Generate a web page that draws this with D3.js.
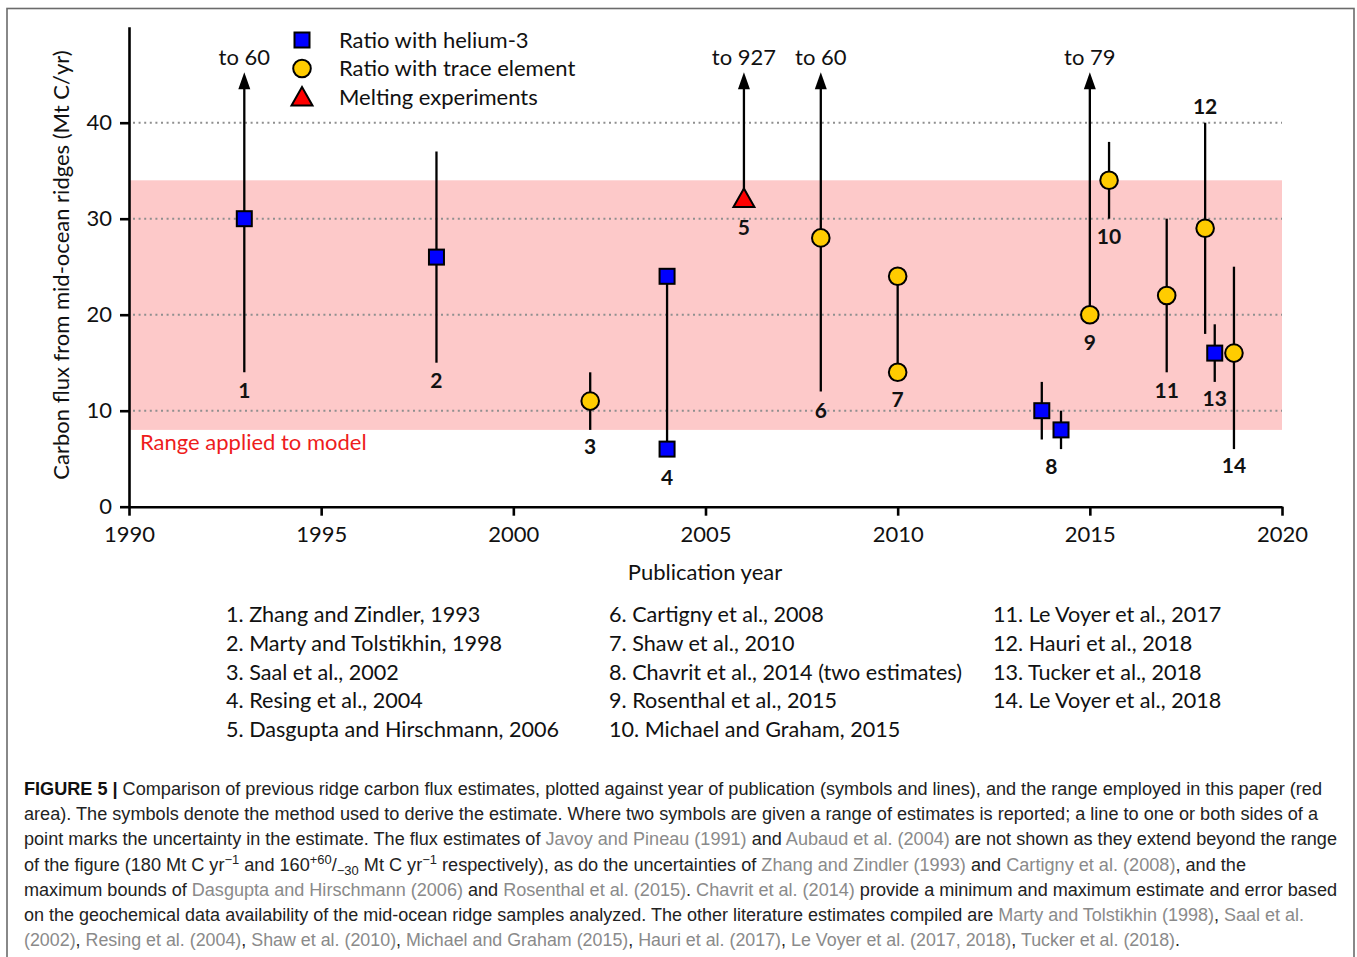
<!DOCTYPE html>
<html><head><meta charset="utf-8">
<script src="https://cdn.jsdelivr.net/npm/d3@7"></script>
<style>
html,body{margin:0;padding:0;background:#fff;}
svg{display:block;}
</style></head>
<body>
<svg id="c" width="1357" height="957"></svg>
<script>
// ---------- DATA ----------
const refNum   = [1,2,3,4,5,6,7,8,8,9,10,11,12,13,14];
const pubYear  = [1993,1998,2002,2004,2006,2008,2010,2013.75,2014.25,2015,2015.5,2017,2018,2018.25,2018.75];
const method   = ["he3","he3","trace","he3","melt","trace","trace","he3","he3","trace","trace","trace","trace","he3","trace"];
const estimateA = [30,26,11,24,32,28,24,10,8,20,34,22,29,16,16];
const estimateB = [null,null,null,6,null,null,14,null,null,null,null,null,null,null,null];
const rangeLow  = [14,15,8,6,32,12,14,7,6,20,30,14,18,13,6];
const rangeHigh = [60,37,14,24,927,60,24,13,10,79,38,30,40,19,25];

const labelText  = ["1","2","3","4","5","6","7","8","9","10","11","12","13","14"];
const labelYear  = [1993,1998,2002,2004,2006,2008,2010,2014,2015,2015.5,2017,2018,2018.25,2018.75];
const labelValue = [12.1,13.2,6.25,3.1,29.1,10.05,11.15,4.15,17.15,28.15,12.1,41.7,11.25,4.25];

const modelRange = [8,34];
const yTicks = [0,10,20,30,40];
const xTicks = [1990,1995,2000,2005,2010,2015,2020];
const arrowCap = 45.25;   // top of drawn arrows (off-scale values)
const gridValues = [10,20,30,40];

const legendLabels = ["Ratio with helium-3","Ratio with trace element","Melting experiments"];
const legendMethods = ["he3","trace","melt"];

const refsCol1 = ["1. Zhang and Zindler, 1993","2. Marty and Tolstikhin, 1998","3. Saal et al., 2002","4. Resing et al., 2004","5. Dasgupta and Hirschmann, 2006"];
const refsCol2 = ["6. Cartigny et al., 2008","7. Shaw et al., 2010","8. Chavrit et al., 2014 (two estimates)","9. Rosenthal et al., 2015","10. Michael and Graham, 2015"];
const refsCol3 = ["11. Le Voyer et al., 2017","12. Hauri et al., 2018","13. Tucker et al., 2018","14. Le Voyer et al., 2018"];

// caption: segments [text, style] ; style: b=bold, g=gray citation, n=normal, sup/sub
const captionLines = [
  [["FIGURE 5 |","b"],[" Comparison of previous ridge carbon flux estimates, plotted against year of publication (symbols and lines), and the range employed in this paper (red","n"]],
  [["area). The symbols denote the method used to derive the estimate. Where two symbols are given a range of estimates is reported; a line to one or both sides of a","n"]],
  [["point marks the uncertainty in the estimate. The flux estimates of ","n"],["Javoy and Pineau (1991)","g"],[" and ","n"],["Aubaud et al. (2004)","g"],[" are not shown as they extend beyond the range","n"]],
  [["of the figure (180 Mt C yr","n"],["\u22121","sup"],[" and 160","n"],["+60","sup"],["/","n"],["\u221230","sub"],[" Mt C yr","n"],["\u22121","sup"],[" respectively), as do the uncertainties of ","n"],["Zhang and Zindler (1993)","g"],[" and ","n"],["Cartigny et al. (2008)","g"],[", and the","n"]],
  [["maximum bounds of ","n"],["Dasgupta and Hirschmann (2006)","g"],[" and ","n"],["Rosenthal et al. (2015)","g"],[". ","n"],["Chavrit et al. (2014)","g"],[" provide a minimum and maximum estimate and error based","n"]],
  [["on the geochemical data availability of the mid-ocean ridge samples analyzed. The other literature estimates compiled are ","n"],["Marty and Tolstikhin (1998)","g"],[", ","n"],["Saal et al.","g"]],
  [["(2002)","g"],[", ","n"],["Resing et al. (2004)","g"],[", ","n"],["Shaw et al. (2010)","g"],[", ","n"],["Michael and Graham (2015)","g"],[", ","n"],["Hauri et al. (2017)","g"],[", ","n"],["Le Voyer et al. (2017, 2018)","g"],[", ","n"],["Tucker et al. (2018)","g"],[".","n"]]
];
const captionLineEnds = [1322,1318,1337,1246,1337,1304,1180];

// ---------- DRAW ----------
const svg = d3.select("#c");
const FONT = "Lato, 'Open Sans', sans-serif";
const x = d3.scaleLinear().domain([1990,2020]).range([129,1282]);
const y = d3.scaleLinear().domain([0,50]).range([506.7,26.7]);

// frame
svg.append("rect").attr("x",7).attr("y",8.5).attr("width",1347).attr("height",970)
  .attr("fill","none").attr("stroke","#6b6b6b").attr("stroke-width",1.6);

// pink band
svg.append("rect").attr("x",x(1990)).attr("width",x(2020)-x(1990))
  .attr("y",y(modelRange[1])).attr("height",y(modelRange[0])-y(modelRange[1]))
  .attr("fill","#fdc9c9");

// grid
svg.append("g").selectAll("line").data(gridValues).join("line")
  .attr("x1",x(1990)+4).attr("x2",x(2020)).attr("y1",d=>y(d)).attr("y2",d=>y(d))
  .attr("stroke","#8f8f8f").attr("stroke-width",2).attr("stroke-dasharray","2,3.6");

// axes
const gx = svg.append("g").attr("transform",`translate(0,${y(0)})`)
  .call(d3.axisBottom(x).tickValues(xTicks).tickFormat(d3.format("d")).tickSize(9).tickSizeOuter(0));
gx.select(".domain").attr("stroke","#000").attr("stroke-width",2.6);
gx.selectAll(".tick line").attr("stroke","#000").attr("stroke-width",2.6);
gx.selectAll(".tick text").attr("font-family",FONT).attr("font-size",22).attr("fill","#111").attr("dy","1.05em");

const gy = svg.append("g").attr("transform",`translate(${x(1990)},0)`)
  .call(d3.axisLeft(y).tickValues(yTicks).tickSize(9).tickSizeOuter(0));
gy.select(".domain").attr("stroke","#000").attr("stroke-width",2.6);
gy.selectAll(".tick line").attr("stroke","#000").attr("stroke-width",2.6);
gy.selectAll(".tick text").attr("font-family",FONT).attr("font-size",22).attr("fill","#111").attr("x",-17);

// axis titles
svg.append("text").attr("x",705).attr("y",580).attr("text-anchor","middle")
  .attr("font-family",FONT).attr("font-size",22).attr("fill","#111").text("Publication year");
svg.append("text").attr("transform","translate(69,265) rotate(-90)").attr("text-anchor","middle")
  .attr("font-family",FONT).attr("font-size",22).attr("fill","#111")
  .text("Carbon flux from mid-ocean ridges (Mt C/yr)");

svg.append("text").attr("x",140).attr("y",450).attr("font-family",FONT).attr("font-size",22)
  .attr("fill","#ee1c1c").text("Range applied to model");

// data records
const recs = refNum.map((n,i)=>({n, yr:pubYear[i], m:method[i], a:estimateA[i], b:estimateB[i], lo:rangeLow[i], hi:rangeHigh[i]}));

// range lines
const lines = svg.append("g");
recs.forEach(r=>{
  const top = Math.min(r.hi, arrowCap);
  lines.append("line").attr("x1",x(r.yr)).attr("x2",x(r.yr))
    .attr("y1",y(r.lo)).attr("y2",y(top)+(r.hi>arrowCap?8:0))
    .attr("stroke","#000").attr("stroke-width",2.3);
  if(r.hi>arrowCap){
    const tx=x(r.yr), ty=y(arrowCap);
    lines.append("path").attr("d",`M${tx},${ty} L${tx-6},${ty+17} L${tx+6},${ty+17} Z`).attr("fill","#000");
    lines.append("text").attr("x",tx).attr("y",ty-7).attr("text-anchor","middle")
      .attr("font-family",FONT).attr("font-size",22).attr("fill","#111").text("to "+r.hi);
  }
});

// markers
function marker(g, m, cx, cy){
  if(m==="he3"){
    g.append("rect").attr("x",cx-7.5).attr("y",cy-7.5).attr("width",15).attr("height",15)
      .attr("fill","#0000ff").attr("stroke","#000").attr("stroke-width",2);
  } else if(m==="trace"){
    g.append("ellipse").attr("cx",cx).attr("cy",cy).attr("rx",8.8).attr("ry",8.8)
      .attr("fill","#ffcc00").attr("stroke","#000").attr("stroke-width",2);
  } else {
    g.append("path").attr("d",`M${cx},${cy-11} L${cx+10.5},${cy+7.5} L${cx-10.5},${cy+7.5} Z`)
      .attr("fill","#ff0000").attr("stroke","#000").attr("stroke-width",2).attr("stroke-linejoin","miter");
  }
}
const mk = svg.append("g");
recs.forEach(r=>{
  marker(mk, r.m, x(r.yr), y(r.a));
  if(r.b!==null) marker(mk, r.m, x(r.yr), y(r.b));
});

// point labels
svg.append("g").selectAll("text").data(labelText).join("text")
  .attr("x",(d,i)=>x(labelYear[i])).attr("y",(d,i)=>y(labelValue[i])).attr("dy","0.36em")
  .attr("text-anchor","middle").attr("font-family",FONT).attr("font-weight",700)
  .attr("font-size",21).attr("fill","#111").text(d=>d);

// legend
const lg = svg.append("g");
legendLabels.forEach((t,i)=>{
  const ly = 40 + i*28.5;
  marker(lg, legendMethods[i], 302, ly + (legendMethods[i]==="melt"?1:0));
  lg.append("text").attr("x",339).attr("y",ly).attr("dy","0.36em").attr("font-family",FONT)
    .attr("font-size",22).attr("fill","#111").text(t);
});

// reference list
[[refsCol1,226],[refsCol2,609],[refsCol3,993]].forEach(([col,cx])=>{
  svg.append("g").selectAll("text").data(col).join("text")
    .attr("x",cx).attr("y",(d,i)=>622+i*28.8).attr("font-family",FONT).attr("font-size",21.6)
    .attr("fill","#111").text(d=>d);
});

// caption
const CFONT = "'Liberation Sans', Arial, sans-serif";
captionLines.forEach((segs,i)=>{
  const t = svg.append("text").attr("x",24).attr("y",795+i*25.2)
    .attr("font-family",CFONT).attr("font-size",17.5).attr("fill","#222")
    .attr("textLength",captionLineEnds[i]-24).attr("lengthAdjust","spacingAndGlyphs");
  let shift = 0;
  segs.forEach(([s,st])=>{
    const sp = t.append("tspan").text(s);
    let target = 0;
    if(st==="b"){ sp.attr("font-weight",700).attr("fill","#111"); }
    if(st==="g"){ sp.attr("fill","#8a8a8a"); }
    if(st==="sup"){ target=-7; sp.attr("font-size",12.5); }
    if(st==="sub"){ target=4; sp.attr("font-size",12.5); }
    if(target!==shift){ sp.attr("dy",target-shift); shift=target; }
  });
});
</script>
</body></html>
